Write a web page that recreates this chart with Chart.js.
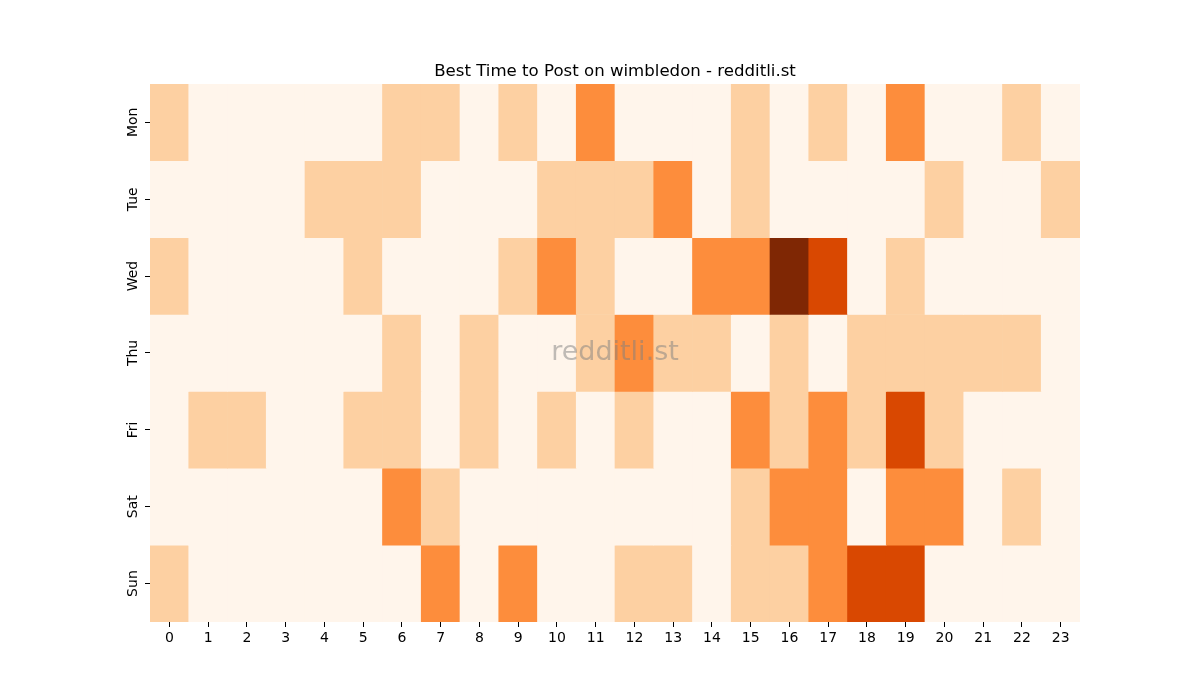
<!DOCTYPE html>
<html>
<head>
<meta charset="utf-8">
<script src="https://cdn.jsdelivr.net/npm/chart.js@4"></script>
<style>
  body { margin: 0; background: #fff; }
</style>
</head>
<body>
<canvas id="myChart" width="1200" height="700"></canvas>
<script>
// levels 0-4 per hour
var hours = ['0','1','2','3','4','5','6','7','8','9','10','11','12','13','14','15','16','17','18','19','20','21','22','23'];
var days = ['Mon', 'Tue', 'Wed', 'Thu', 'Fri', 'Sat', 'Sun'];

var mon = [1,0,0,0,0,0,1,1,0,1,0,2,0,0,0,1,0,1,0,2,0,0,1,0];
var tue = [0,0,0,0,1,1,1,0,0,0,1,1,1,2,0,1,0,0,0,0,1,0,0,1];
var wed = [1,0,0,0,0,1,0,0,0,1,2,1,0,0,2,2,4,3,0,1,0,0,0,0];
var thu = [0,0,0,0,0,0,1,0,1,0,0,1,2,1,1,0,1,0,1,1,1,1,1,0];
var fri = [0,1,1,0,0,1,1,0,1,0,1,0,1,0,0,2,1,2,1,3,1,0,0,0];
var sat = [0,0,0,0,0,0,2,1,0,0,0,0,0,0,0,1,2,2,0,2,2,0,1,0];
var sun = [1,0,0,0,0,0,0,2,0,2,0,0,1,1,0,1,1,2,3,3,0,0,0,0];

// Oranges colormap steps
var colores = ['#fff5eb', '#fdd0a2', '#fd8d3c', '#d94801', '#7f2704'];

var linhas = [mon, tue, wed, thu, fri, sat, sun];

var datasets = linhas.map(function (linha, i) {
  return {
    label: days[i],
    data: linha.map(function () { return 1; }),
    backgroundColor: linha.map(function (v) { return colores[v]; }),
    borderWidth: 0,
    barPercentage: 1,
    categoryPercentage: 1
  };
});

var marcaDagua = {
  id: 'marcaDagua',
  afterDatasetsDraw: function (chart) {
    var a = chart.chartArea;
    var ctx = chart.ctx;
    ctx.save();
    ctx.font = '27px "DejaVu Sans"';
    ctx.fillStyle = 'rgba(128,128,128,0.5)';
    ctx.textAlign = 'center';
    ctx.textBaseline = 'middle';
    ctx.fillText('redditli.st', (a.left + a.right) / 2, (a.top + a.bottom) / 2);
    ctx.restore();
  }
};

Chart.defaults.font.family = '"DejaVu Sans", sans-serif';
Chart.defaults.color = '#000';

var ctx = document.getElementById('myChart').getContext('2d');
var myChart = new Chart(ctx, {
  type: 'bar',
  data: {
    labels: hours,
    datasets: datasets
  },
  options: {
    responsive: false,
    animation: false,
    layout: {
      padding: { left: 100, right: 120, top: 0, bottom: 48 }
    },
    plugins: {
      legend: { display: false },
      tooltip: { enabled: false },
      title: {
        display: true,
        fullSize: false,
        text: 'Best Time to Post on wimbledon - redditli.st',
        color: '#000',
        font: { size: 16.6, weight: 'normal' },
        padding: { top: 62, bottom: 2 }
      }
    },
    scales: {
      x: {
        stacked: true,
        grid: { display: true, offset: false, drawOnChartArea: false, drawTicks: true, tickLength: 5, color: '#000' },
        border: { display: false },
        ticks: { font: { size: 14 }, color: '#000', padding: 3, maxRotation: 0 },
        afterFit: function (scale) { scale.height = 30; }
      },
      y: {
        stacked: true,
        reverse: true,
        min: 0,
        max: 7,
        grid: { display: true, drawOnChartArea: false, drawTicks: true, tickLength: 5, color: '#000' },
        border: { display: false },
        afterBuildTicks: function (scale) {
          scale.ticks = days.map(function (d, i) { return { value: i + 0.5 }; });
        },
        ticks: {
          font: { size: 14 },
          color: '#000',
          crossAlign: 'center',
          padding: -4,
          minRotation: 90,
          maxRotation: 90,
          callback: function (v, i) { return days[i]; }
        },
        afterFit: function (scale) { scale.width = 50; }
      }
    }
  },
  plugins: [marcaDagua]
});
</script>
</body>
</html>
